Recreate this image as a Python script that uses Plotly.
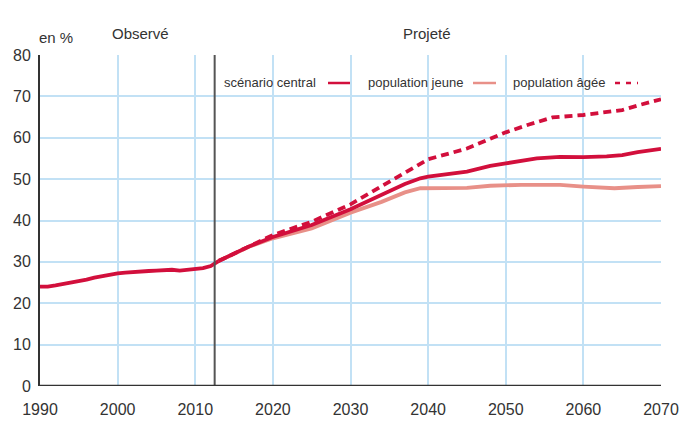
import plotly.graph_objects as go

# Observed (scénario central, historical part)
obs_years = [1990, 1991, 1992, 1993, 1994, 1995, 1996, 1997, 1998, 1999, 2000,
             2001, 2002, 2003, 2004, 2005, 2006, 2007, 2008, 2009, 2010, 2011, 2012, 2013]
obs_vals = [24.0, 24.0, 24.3, 24.6, 24.9, 25.3, 25.7, 26.2, 26.6, 26.9, 27.2,
            27.4, 27.6, 27.7, 27.8, 27.9, 28.1, 28.1, 27.9, 28.1, 28.3, 28.5, 29.0, 30.2]

central_years = [2013, 2015, 2017, 2020, 2025, 2030, 2034, 2037, 2039, 2040, 2045, 2048,
                 2050, 2054, 2057, 2060, 2063, 2065, 2067, 2070]
central_vals = [30.2, 32.0, 33.8, 36.0, 38.9, 42.7, 46.2, 48.8, 50.2, 50.6, 51.8, 53.2,
                53.8, 55.0, 55.4, 55.3, 55.5, 55.8, 56.5, 57.3]

young_years = [2013, 2015, 2017, 2020, 2025, 2030, 2034, 2037, 2039, 2045, 2048, 2052,
               2055, 2057, 2060, 2064, 2067, 2070]
young_vals = [30.2, 32.0, 33.7, 35.7, 38.1, 41.9, 44.5, 46.8, 47.8, 47.9, 48.4, 48.6,
              48.7, 48.6, 48.2, 47.8, 48.1, 48.3]

old_years = [2013, 2015, 2017, 2020, 2025, 2030, 2034, 2037, 2040, 2045, 2048, 2050,
             2053, 2056, 2060, 2063, 2065, 2067, 2070]
old_vals = [30.2, 32.0, 33.8, 36.5, 39.7, 43.9, 48.3, 51.5, 54.8, 57.4, 59.8, 61.3,
            63.2, 64.9, 65.5, 66.2, 66.7, 67.8, 69.3]

x_ticks = [1990, 2000, 2010, 2020, 2030, 2040, 2050, 2060, 2070]
y_ticks = [0, 10, 20, 30, 40, 50, 60, 70, 80]
split_year = 2012.5

RED = "#d20f3c"
PINK = "#e89088"
GRID = "#c2e1f5"
TXT = "#333333"
FONT = "Liberation Sans, Arial, sans-serif"

W, H = 681, 421
L, R, T, B = 40, 661, 55, 386

fig = go.Figure()
fig.add_trace(go.Scatter(x=young_years, y=young_vals, mode="lines",
                         line=dict(color=PINK, width=3.8), showlegend=False))
fig.add_trace(go.Scatter(x=old_years, y=old_vals, mode="lines",
                         line=dict(color=RED, width=3.8, dash="8px,5px"), showlegend=False))
fig.add_trace(go.Scatter(x=central_years, y=central_vals, mode="lines",
                         line=dict(color=RED, width=3.8), showlegend=False))
fig.add_trace(go.Scatter(x=obs_years, y=obs_vals, mode="lines",
                         line=dict(color=RED, width=3.8), showlegend=False))

# helpers: screen pixel -> paper coords (for legend box / header placement)
def px(x):
    return (x - L) / (R - L)
def py(y):
    return (B - y) / (B - T)

shapes = [
    dict(type="rect", xref="paper", yref="paper", x0=px(225), x1=px(642), y0=py(99), y1=py(66),
         fillcolor="white", line=dict(width=0), layer="between"),
    dict(type="line", xref="x", yref="y", x0=split_year, x1=split_year, y0=0, y1=80,
         line=dict(color="#555555", width=2), layer="above"),
    dict(type="line", xref="paper", yref="paper", x0=px(328), x1=px(350), y0=py(83), y1=py(83),
         line=dict(color=RED, width=2.5)),
    dict(type="line", xref="paper", yref="paper", x0=px(473), x1=px(496), y0=py(83), y1=py(83),
         line=dict(color=PINK, width=2.5)),
    dict(type="line", xref="paper", yref="paper", x0=px(615), x1=px(638), y0=py(83), y1=py(83),
         line=dict(color=RED, width=2.5, dash="5px,6px")),
    dict(type="line", xref="paper", yref="y", x0=0, x1=1, y0=0, y1=0,
         line=dict(color="#333333", width=2.5), layer="above"),
]

ann = [
    dict(text="scénario central", xref="paper", yref="paper", x=px(222), y=py(82),
         xanchor="left", yanchor="middle", showarrow=False, font=dict(size=13, color=TXT)),
    dict(text="population jeune", xref="paper", yref="paper", x=px(366), y=py(82),
         xanchor="left", yanchor="middle", showarrow=False, font=dict(size=13, color=TXT)),
    dict(text="population âgée", xref="paper", yref="paper", x=px(511), y=py(82),
         xanchor="left", yanchor="middle", showarrow=False, font=dict(size=13, color=TXT)),
    dict(text="en %", xref="paper", yref="paper", x=px(37), y=py(37),
         xanchor="left", yanchor="middle", showarrow=False, font=dict(size=15, color=TXT)),
    dict(text="Observé", xref="paper", yref="paper", x=px(140), y=py(34),
         xanchor="center", yanchor="middle", showarrow=False, font=dict(size=15, color=TXT)),
    dict(text="Projeté", xref="paper", yref="paper", x=px(427), y=py(34),
         xanchor="center", yanchor="middle", showarrow=False, font=dict(size=15, color=TXT)),
]

fig.update_layout(
    width=W, height=H,
    margin=dict(l=L, r=W - R, t=T, b=H - B, autoexpand=False),
    paper_bgcolor="white", plot_bgcolor="white",
    font=dict(family=FONT, size=15, color=TXT),
    shapes=shapes, annotations=ann, showlegend=False,
)
fig.update_xaxes(range=[1990, 2070], tickvals=x_ticks, ticktext=[str(v) for v in x_ticks],
                 showgrid=True, gridcolor=GRID, gridwidth=1.5, zeroline=False,
                 showline=False, ticks="", automargin=False, ticklabelstandoff=12,
                 ticklabeloverflow="allow", tickfont=dict(size=16, color=TXT))
fig.update_yaxes(range=[0, 80], tickvals=y_ticks, ticktext=[str(v) for v in y_ticks],
                 showgrid=True, gridcolor=GRID, gridwidth=1.5, zeroline=False,
                 showline=True, linecolor="#333333", linewidth=2, ticks="",
                 automargin=False, ticklabelstandoff=4,
                 tickfont=dict(size=16, color=TXT))

fig.write_html("out.html", config={"displayModeBar": False},
               post_script="document.body.style.margin='0';")
